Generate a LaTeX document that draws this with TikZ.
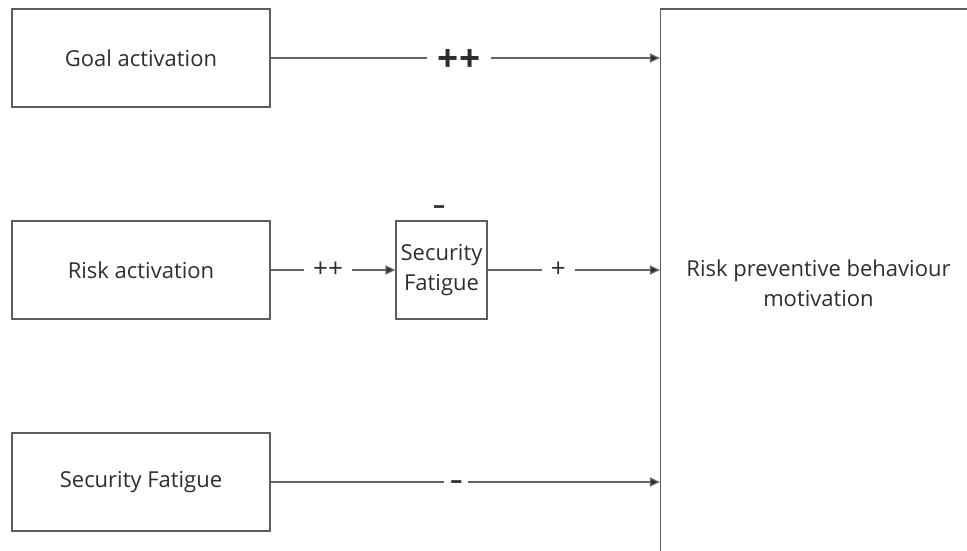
\documentclass[tikz,border=0pt]{standalone}
\usepackage{fontspec}
\setmainfont{Open Sans}
\usetikzlibrary{arrows.meta}
\definecolor{edgegray}{HTML}{5E5E5E}
\definecolor{linkgray}{HTML}{666666}
\definecolor{inkgray}{HTML}{2E2E2E}
\begin{document}
\begin{tikzpicture}[x=1pt,y=-1pt,
    box/.style={draw=edgegray, line width=1.2pt, minimum width=258pt, minimum height=98pt,
      inner sep=0pt, text=inkgray, font=\fontsize{22}{30}\selectfont},
    link/.style={draw=linkgray, line width=1.2pt, -{Triangle[length=10pt,width=9pt,fill=inkgray]}},
    sign/.style={fill=white, text=inkgray, inner xsep=9pt, inner ysep=1pt, font=\fontsize{26}{26}\selectfont},
    bigsign/.style={sign, inner xsep=11pt, yshift=-2pt, font=\fontsize{37}{37}\selectfont\bfseries},
    dashsign/.style={sign, inner xsep=6pt, yshift=-3pt, font=\fontsize{24}{24}\selectfont\bfseries}]
  \useasboundingbox (0,0) rectangle (967,551);
  \clip (0,0) rectangle (967,551);
  \node[box] (goal) at (141,58) {Goal activation};
  \node[box] (risk) at (141,270) {Risk activation};
  \node[box] (fatigue) at (141,482) {Security Fatigue};
  \node[box, minimum width=91pt, align=center] (midfat) at (441.5,270) {Security\\Fatigue};
  \node[box, minimum width=316pt, minimum height=548pt, align=center] (motiv) at (818.5,283)
    {Risk preventive behaviour\\motivation};
  \node[dashsign, fill=none] (midsign) at (439,207) {–};
  \draw[link] (goal) -- node[pos=0.484, bigsign] {++} (goal -| motiv.west);
  \draw[link] (risk) -- node[pos=0.46, sign] {++} (midfat);
  \draw[link] (midfat) -- node[pos=0.41, sign] {+} (midfat -| motiv.west);
  \draw[link] (fatigue) -- node[pos=0.477, dashsign] {–} (fatigue -| motiv.west);
\end{tikzpicture}
\end{document}
